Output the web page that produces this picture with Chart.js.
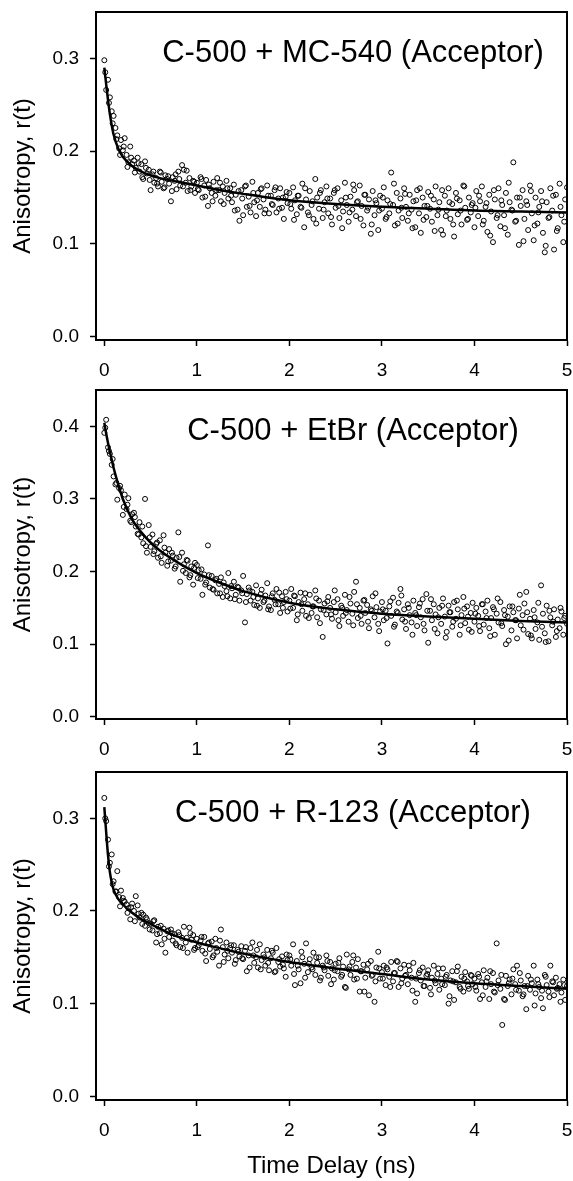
<!DOCTYPE html>
<html>
<head>
<meta charset="utf-8">
<script src="https://cdn.jsdelivr.net/npm/chart.js@4"></script>
<style>
    body { margin: 0; background: #fff; }
    .panel { position: absolute; left: 0; }
</style>
</head>
<body>
<canvas id="c1" class="panel" width="573" height="380" style="top:0"></canvas>
<canvas id="c2" class="panel" width="573" height="380" style="top:380px"></canvas>
<canvas id="c3" class="panel" width="573" height="421" style="top:760px"></canvas>
<script>
// tick labels
var xTicks = [0, 1, 2, 3, 4, 5];
var yTicksLow = [0, 0.1, 0.2, 0.3];
var yTicksHigh = [0, 0.1, 0.2, 0.3, 0.4];

// time channels (ns)
var times = [
    0.00, 0.02, 0.04, 0.06, 0.08, 0.10, 0.12, 0.14, 0.16, 0.18, 0.20, 0.22, 0.24, 0.26, 0.28, 0.30, 0.32, 0.34, 0.36, 0.38, 0.40, 0.42, 0.44, 0.46, 0.48,
    0.50, 0.52, 0.54, 0.56, 0.58, 0.60, 0.62, 0.64, 0.66, 0.68, 0.70, 0.72, 0.74, 0.76, 0.78, 0.80, 0.82, 0.84, 0.86, 0.88, 0.90, 0.92, 0.94, 0.96, 0.98,
    1.00, 1.02, 1.04, 1.06, 1.08, 1.10, 1.12, 1.14, 1.16, 1.18, 1.20, 1.22, 1.24, 1.26, 1.28, 1.30, 1.32, 1.34, 1.36, 1.38, 1.40, 1.42, 1.44, 1.46, 1.48,
    1.50, 1.52, 1.54, 1.56, 1.58, 1.60, 1.62, 1.64, 1.66, 1.68, 1.70, 1.72, 1.74, 1.76, 1.78, 1.80, 1.82, 1.84, 1.86, 1.88, 1.90, 1.92, 1.94, 1.96, 1.98,
    2.00, 2.02, 2.04, 2.06, 2.08, 2.10, 2.12, 2.14, 2.16, 2.18, 2.20, 2.22, 2.24, 2.26, 2.28, 2.30, 2.32, 2.34, 2.36, 2.38, 2.40, 2.42, 2.44, 2.46, 2.48,
    2.50, 2.52, 2.54, 2.56, 2.58, 2.60, 2.62, 2.64, 2.66, 2.68, 2.70, 2.72, 2.74, 2.76, 2.78, 2.80, 2.82, 2.84, 2.86, 2.88, 2.90, 2.92, 2.94, 2.96, 2.98,
    3.00, 3.02, 3.04, 3.06, 3.08, 3.10, 3.12, 3.14, 3.16, 3.18, 3.20, 3.22, 3.24, 3.26, 3.28, 3.30, 3.32, 3.34, 3.36, 3.38, 3.40, 3.42, 3.44, 3.46, 3.48,
    3.50, 3.52, 3.54, 3.56, 3.58, 3.60, 3.62, 3.64, 3.66, 3.68, 3.70, 3.72, 3.74, 3.76, 3.78, 3.80, 3.82, 3.84, 3.86, 3.88, 3.90, 3.92, 3.94, 3.96, 3.98,
    4.00, 4.02, 4.04, 4.06, 4.08, 4.10, 4.12, 4.14, 4.16, 4.18, 4.20, 4.22, 4.24, 4.26, 4.28, 4.30, 4.32, 4.34, 4.36, 4.38, 4.40, 4.42, 4.44, 4.46, 4.48,
    4.50, 4.52, 4.54, 4.56, 4.58, 4.60, 4.62, 4.64, 4.66, 4.68, 4.70, 4.72, 4.74, 4.76, 4.78, 4.80, 4.82, 4.84, 4.86, 4.88, 4.90, 4.92, 4.94, 4.96, 4.98,
    5.00
];
// in-between channels
var timesB = [
    0.01, 0.05, 0.09, 0.13, 0.17, 0.21, 0.25, 0.29, 0.33, 0.37, 0.41, 0.45, 0.49, 0.53, 0.57, 0.61, 0.65, 0.69, 0.73, 0.77, 0.81, 0.85, 0.89, 0.93, 0.97,
    1.01, 1.05, 1.09, 1.13, 1.17, 1.21, 1.25, 1.29, 1.33, 1.37, 1.41, 1.45, 1.49, 1.53, 1.57, 1.61, 1.65, 1.69, 1.73, 1.77, 1.81, 1.85, 1.89, 1.93, 1.97,
    2.01, 2.05, 2.09, 2.13, 2.17, 2.21, 2.25, 2.29, 2.33, 2.37, 2.41, 2.45, 2.49, 2.53, 2.57, 2.61, 2.65, 2.69, 2.73, 2.77, 2.81, 2.85, 2.89, 2.93, 2.97,
    3.01, 3.05, 3.09, 3.13, 3.17, 3.21, 3.25, 3.29, 3.33, 3.37, 3.41, 3.45, 3.49, 3.53, 3.57, 3.61, 3.65, 3.69, 3.73, 3.77, 3.81, 3.85, 3.89, 3.93, 3.97,
    4.01, 4.05, 4.09, 4.13, 4.17, 4.21, 4.25, 4.29, 4.33, 4.37, 4.41, 4.45, 4.49, 4.53, 4.57, 4.61, 4.65, 4.69, 4.73, 4.77, 4.81, 4.85, 4.89, 4.93, 4.97
];

// measured anisotropy r(t)
var rMC540 = [
    0.298, 0.266, 0.277, 0.258, 0.243, 0.238, 0.225, 0.217, 0.203, 0.212, 0.201, 0.214, 0.196, 0.188, 0.205, 0.186, 0.190, 0.182, 0.193, 0.178, 0.186, 0.170, 0.189, 0.176, 0.180,
    0.158, 0.175, 0.166, 0.171, 0.162, 0.178, 0.167, 0.160, 0.174, 0.170, 0.165, 0.146, 0.172, 0.168, 0.159, 0.178, 0.163, 0.185, 0.180, 0.166, 0.157, 0.171, 0.162, 0.168, 0.155,
    0.166, 0.158, 0.172, 0.150, 0.163, 0.169, 0.141, 0.160, 0.155, 0.167, 0.152, 0.171, 0.158, 0.146, 0.162, 0.155, 0.168, 0.149, 0.160, 0.145, 0.164, 0.153, 0.137, 0.125, 0.158,
    0.131, 0.162, 0.140, 0.151, 0.134, 0.167, 0.145, 0.130, 0.155, 0.140, 0.160, 0.148, 0.137, 0.163, 0.133, 0.152, 0.142, 0.158, 0.134, 0.149, 0.160, 0.139, 0.127, 0.151, 0.144,
    0.155, 0.138, 0.161, 0.147, 0.132, 0.152, 0.140, 0.165, 0.118, 0.148, 0.134, 0.157, 0.142, 0.127, 0.170, 0.150, 0.138, 0.158, 0.128, 0.145, 0.162, 0.133, 0.149, 0.121, 0.155,
    0.139, 0.160, 0.128, 0.147, 0.135, 0.166, 0.142, 0.124, 0.151, 0.137, 0.158, 0.130, 0.146, 0.163, 0.141, 0.120, 0.153, 0.136, 0.148, 0.111, 0.157, 0.131, 0.144, 0.115, 0.152,
    0.138, 0.161, 0.127, 0.147, 0.133, 0.177, 0.142, 0.120, 0.155, 0.136, 0.149, 0.128, 0.160, 0.140, 0.125, 0.153, 0.137, 0.146, 0.118, 0.158, 0.133, 0.112, 0.150, 0.141, 0.129,
    0.156, 0.138, 0.124, 0.148, 0.162, 0.131, 0.145, 0.115, 0.110, 0.152, 0.136, 0.160, 0.127, 0.143, 0.108, 0.155, 0.132, 0.147, 0.121, 0.163, 0.139, 0.126, 0.150, 0.134, 0.144,
    0.118, 0.157, 0.130, 0.146, 0.162, 0.125, 0.140, 0.113, 0.153, 0.135, 0.102, 0.148, 0.128, 0.160, 0.119, 0.142, 0.131, 0.155, 0.110, 0.145, 0.137, 0.188, 0.124, 0.150, 0.099,
    0.141, 0.158, 0.127, 0.146, 0.115, 0.163, 0.133, 0.104, 0.150, 0.122, 0.140, 0.157, 0.112, 0.091, 0.145, 0.128, 0.160, 0.136, 0.094, 0.153, 0.117, 0.165, 0.131, 0.102, 0.148,
    0.161
];
var rMC540b = [
    0.285, 0.252, 0.230, 0.213, 0.196, 0.205, 0.183, 0.193, 0.177, 0.187, 0.172, 0.182, 0.169, 0.178, 0.165, 0.177, 0.161, 0.173, 0.157, 0.175, 0.170, 0.162, 0.179, 0.158, 0.167,
    0.159, 0.170, 0.151, 0.164, 0.146, 0.158, 0.166, 0.143, 0.160, 0.152, 0.136, 0.157, 0.149, 0.163, 0.141, 0.155, 0.147, 0.159, 0.133, 0.152, 0.143, 0.161, 0.138, 0.150, 0.156,
    0.143, 0.126, 0.152, 0.139, 0.160, 0.131, 0.146, 0.122, 0.155, 0.137, 0.149, 0.129, 0.158, 0.141, 0.117, 0.150, 0.134, 0.164, 0.145, 0.127, 0.153, 0.139, 0.121, 0.147, 0.136,
    0.150, 0.129, 0.143, 0.165, 0.122, 0.139, 0.154, 0.133, 0.117, 0.147, 0.160, 0.126, 0.141, 0.152, 0.114, 0.137, 0.158, 0.130, 0.145, 0.121, 0.149, 0.136, 0.162, 0.127, 0.142,
    0.139, 0.152, 0.121, 0.144, 0.109, 0.158, 0.131, 0.147, 0.117, 0.166, 0.136, 0.125, 0.150, 0.103, 0.142, 0.157, 0.120, 0.134, 0.146, 0.098, 0.129, 0.152, 0.114, 0.140, 0.124
];
var rEtBr = [
    0.391, 0.409, 0.371, 0.362, 0.347, 0.331, 0.320, 0.299, 0.315, 0.312, 0.278, 0.306, 0.286, 0.301, 0.270, 0.279, 0.281, 0.262, 0.252, 0.268, 0.247, 0.239, 0.300, 0.226, 0.264,
    0.234, 0.251, 0.228, 0.238, 0.219, 0.243, 0.212, 0.250, 0.226, 0.208, 0.231, 0.215, 0.222, 0.204, 0.219, 0.254, 0.186, 0.226, 0.210, 0.198, 0.215, 0.192, 0.207, 0.182, 0.212,
    0.209, 0.202, 0.190, 0.168, 0.196, 0.185, 0.236, 0.178, 0.194, 0.175, 0.188, 0.170, 0.183, 0.192, 0.165, 0.180, 0.173, 0.198, 0.163, 0.177, 0.186, 0.168, 0.179, 0.160, 0.174,
    0.194, 0.130, 0.169, 0.178, 0.160, 0.172, 0.154, 0.181, 0.163, 0.150, 0.175, 0.158, 0.167, 0.184, 0.152, 0.147, 0.170, 0.161, 0.176, 0.155, 0.143, 0.166, 0.158, 0.172, 0.145,
    0.160, 0.176, 0.150, 0.166, 0.133, 0.158, 0.171, 0.146, 0.162, 0.139, 0.155, 0.168, 0.143, 0.152, 0.174, 0.137, 0.160, 0.148, 0.110, 0.156, 0.141, 0.165, 0.150, 0.135, 0.158,
    0.144, 0.162, 0.125, 0.153, 0.139, 0.168, 0.147, 0.131, 0.156, 0.142, 0.172, 0.186, 0.136, 0.150, 0.128, 0.160, 0.143, 0.154, 0.122, 0.148, 0.166, 0.137, 0.151, 0.128, 0.145,
    0.158, 0.133, 0.146, 0.101, 0.152, 0.139, 0.164, 0.127, 0.145, 0.157, 0.176, 0.134, 0.148, 0.121, 0.155, 0.140, 0.130, 0.160, 0.143, 0.125, 0.151, 0.137, 0.162, 0.119, 0.169,
    0.102, 0.146, 0.133, 0.155, 0.141, 0.115, 0.150, 0.128, 0.163, 0.138, 0.117, 0.153, 0.144, 0.124, 0.158, 0.135, 0.148, 0.113, 0.140, 0.165, 0.129, 0.152, 0.120, 0.143, 0.157,
    0.131, 0.150, 0.139, 0.118, 0.155, 0.127, 0.145, 0.160, 0.122, 0.136, 0.151, 0.113, 0.142, 0.130, 0.158, 0.125, 0.147, 0.100, 0.138, 0.152, 0.119, 0.144, 0.133, 0.108, 0.149,
    0.126, 0.140, 0.156, 0.172, 0.114, 0.135, 0.108, 0.147, 0.121, 0.130, 0.106, 0.181, 0.142, 0.115, 0.153, 0.104, 0.137, 0.126, 0.148, 0.110, 0.134, 0.122, 0.145, 0.113, 0.139,
    0.128
];
var rEtBrb = [
    0.398, 0.366, 0.355, 0.322, 0.318, 0.289, 0.292, 0.268, 0.275, 0.251, 0.262, 0.235, 0.247, 0.224, 0.240, 0.221, 0.233, 0.214, 0.226, 0.207, 0.220, 0.201, 0.216, 0.195, 0.205,
    0.191, 0.203, 0.182, 0.195, 0.176, 0.190, 0.170, 0.185, 0.166, 0.180, 0.162, 0.178, 0.170, 0.158, 0.174, 0.165, 0.153, 0.169, 0.160, 0.148, 0.166, 0.155, 0.171, 0.150, 0.162,
    0.149, 0.167, 0.141, 0.155, 0.170, 0.136, 0.152, 0.163, 0.129, 0.147, 0.159, 0.141, 0.174, 0.133, 0.150, 0.143, 0.165, 0.126, 0.155, 0.139, 0.161, 0.131, 0.146, 0.170, 0.118,
    0.148, 0.136, 0.159, 0.124, 0.143, 0.167, 0.131, 0.150, 0.113, 0.140, 0.156, 0.128, 0.146, 0.162, 0.121, 0.137, 0.153, 0.109, 0.144, 0.131, 0.160, 0.126, 0.149, 0.138, 0.117,
    0.142, 0.125, 0.155, 0.136, 0.111, 0.148, 0.163, 0.129, 0.140, 0.105, 0.152, 0.133, 0.168, 0.120, 0.144, 0.112, 0.137, 0.157, 0.124, 0.103, 0.146, 0.131, 0.118, 0.150, 0.136
];
var rR123 = [
    0.322, 0.297, 0.277, 0.252, 0.261, 0.232, 0.221, 0.243, 0.215, 0.222, 0.214, 0.210, 0.207, 0.203, 0.191, 0.208, 0.200, 0.216, 0.206, 0.193, 0.198, 0.196, 0.184, 0.191, 0.187,
    0.186, 0.179, 0.190, 0.166, 0.183, 0.176, 0.164, 0.181, 0.155, 0.178, 0.172, 0.180, 0.168, 0.175, 0.163, 0.177, 0.161, 0.171, 0.183, 0.166, 0.155, 0.182, 0.169, 0.174, 0.160,
    0.170, 0.163, 0.168, 0.157, 0.172, 0.146, 0.165, 0.159, 0.167, 0.152, 0.170, 0.156, 0.141, 0.180, 0.161, 0.153, 0.166, 0.149, 0.160, 0.155, 0.163, 0.147, 0.158, 0.151, 0.162,
    0.148, 0.157, 0.135, 0.152, 0.160, 0.166, 0.144, 0.150, 0.139, 0.164, 0.147, 0.153, 0.141, 0.158, 0.136, 0.149, 0.155, 0.134, 0.160, 0.145, 0.140, 0.151, 0.138, 0.129, 0.147,
    0.152, 0.141, 0.164, 0.120, 0.146, 0.137, 0.122, 0.150, 0.143, 0.165, 0.134, 0.148, 0.139, 0.155, 0.131, 0.144, 0.150, 0.128, 0.141, 0.136, 0.152, 0.130, 0.145, 0.138, 0.126,
    0.143, 0.135, 0.149, 0.129, 0.140, 0.118, 0.153, 0.137, 0.131, 0.145, 0.126, 0.139, 0.148, 0.113, 0.135, 0.142, 0.128, 0.137, 0.109, 0.146, 0.131, 0.102, 0.139, 0.156, 0.127,
    0.134, 0.141, 0.120, 0.137, 0.129, 0.145, 0.124, 0.133, 0.146, 0.118, 0.138, 0.127, 0.142, 0.131, 0.121, 0.136, 0.128, 0.144, 0.102, 0.111, 0.133, 0.125, 0.139, 0.119, 0.130,
    0.136, 0.117, 0.128, 0.141, 0.122, 0.132, 0.115, 0.127, 0.138, 0.120, 0.131, 0.100, 0.125, 0.135, 0.104, 0.123, 0.140, 0.118, 0.129, 0.113, 0.134, 0.124, 0.116, 0.131, 0.121,
    0.127, 0.114, 0.132, 0.105, 0.123, 0.136, 0.118, 0.128, 0.105, 0.121, 0.133, 0.112, 0.165, 0.125, 0.116, 0.077, 0.105, 0.130, 0.119, 0.126, 0.110, 0.137, 0.121, 0.141, 0.114,
    0.125, 0.108, 0.119, 0.094, 0.130, 0.115, 0.122, 0.141, 0.111, 0.126, 0.118, 0.106, 0.095, 0.131, 0.120, 0.113, 0.141, 0.124, 0.109, 0.128, 0.117, 0.121, 0.112, 0.126, 0.104,
    0.119
];
var rR123b = [
    0.300, 0.248, 0.229, 0.221, 0.205, 0.211, 0.198, 0.204, 0.189, 0.197, 0.186, 0.193, 0.180, 0.189, 0.175, 0.184, 0.170, 0.179, 0.176, 0.165, 0.174, 0.160, 0.171, 0.176, 0.158,
    0.161, 0.172, 0.154, 0.166, 0.150, 0.160, 0.168, 0.145, 0.157, 0.163, 0.143, 0.156, 0.149, 0.161, 0.139, 0.152, 0.158, 0.137, 0.150, 0.144, 0.157, 0.135, 0.148, 0.142, 0.153,
    0.148, 0.132, 0.141, 0.156, 0.128, 0.143, 0.137, 0.150, 0.125, 0.139, 0.146, 0.121, 0.136, 0.144, 0.131, 0.117, 0.140, 0.152, 0.127, 0.135, 0.113, 0.143, 0.130, 0.124, 0.138,
    0.127, 0.139, 0.118, 0.133, 0.145, 0.122, 0.130, 0.141, 0.114, 0.127, 0.136, 0.119, 0.132, 0.110, 0.125, 0.138, 0.121, 0.129, 0.108, 0.124, 0.135, 0.116, 0.127, 0.119, 0.130,
    0.118, 0.129, 0.109, 0.124, 0.135, 0.113, 0.120, 0.131, 0.104, 0.122, 0.127, 0.115, 0.133, 0.110, 0.119, 0.126, 0.098, 0.121, 0.114, 0.129, 0.107, 0.123, 0.116, 0.102, 0.120
];

// fitted decay curves
var fitTimes = [0, 0.02, 0.04, 0.06, 0.08, 0.1, 0.15, 0.2, 0.3, 0.4, 0.5, 0.6, 0.8, 1.0, 1.2, 1.5, 2.0, 2.5, 3.0, 3.5, 4.0, 4.5, 5.0];
var fitMC540 = [0.290, 0.272, 0.255, 0.240, 0.228, 0.218, 0.203, 0.194, 0.184, 0.178, 0.174, 0.171, 0.167, 0.163, 0.159, 0.154, 0.147, 0.143, 0.140, 0.138, 0.136, 0.135, 0.134];
var fitEtBr = [0.405, 0.390, 0.377, 0.365, 0.354, 0.343, 0.320, 0.300, 0.272, 0.254, 0.240, 0.229, 0.212, 0.198, 0.187, 0.173, 0.157, 0.148, 0.142, 0.138, 0.135, 0.132, 0.130];
var fitR123 = [0.312, 0.285, 0.260, 0.242, 0.231, 0.223, 0.213, 0.207, 0.198, 0.191, 0.186, 0.181, 0.172, 0.166, 0.161, 0.154, 0.145, 0.138, 0.132, 0.126, 0.122, 0.119, 0.116];

var FONT = '"Liberation Sans", Arial, Helvetica, sans-serif';
Chart.defaults.font.family = FONT;
Chart.defaults.color = '#000';

function toPoints(xs, ys) {
    return xs.map(function (x, i) {
        return {x: x, y: ys[i]};
    });
}

function fixedTicks(values) {
    return function (scale) {
        scale.ticks = values.map(function (v) {
            return {value: v};
        });
    };
}

// box around the plot area + the sample label inside it
var framePlugin = {
    id: 'frame',
    afterDraw: function (chart) {
        var a = chart.chartArea;
        var ctx = chart.ctx;
        var o = chart.options.plugins.frame;
        ctx.save();
        ctx.strokeStyle = '#000';
        ctx.lineWidth = 2;
        ctx.strokeRect(a.left, a.top, a.right - a.left, a.bottom - a.top);
        ctx.font = '31px ' + FONT;
        ctx.fillStyle = '#000';
        ctx.textAlign = 'center';
        ctx.textBaseline = 'alphabetic';
        ctx.fillText(o.label, a.left + o.labelX, a.top + o.labelY);
        ctx.restore();
    }
};

function makePanel(id, label, values, fit, yMin, yMax, yTicks, padTop, xHeight, showXTitle) {
    var tickGrid = {
        drawOnChartArea: false,
        drawTicks: true,
        tickLength: 6,
        tickWidth: 1.5,
        tickColor: '#000'
    };
    return new Chart(document.getElementById(id), {
        type: 'scatter',
        data: {
            datasets: [
                {
                    data: toPoints(fitTimes, fit),
                    showLine: true,
                    borderColor: '#000',
                    borderWidth: 2.5,
                    pointRadius: 0,
                    cubicInterpolationMode: 'monotone'
                },
                {
                    data: values,
                    showLine: false,
                    pointRadius: 2.5,
                    pointBorderWidth: 1,
                    pointBorderColor: '#000',
                    pointBackgroundColor: 'rgba(255,255,255,0)'
                }
            ]
        },
        options: {
            responsive: false,
            animation: false,
            layout: {padding: {top: padTop, left: 0, right: 6, bottom: 0}},
            plugins: {
                legend: {display: false},
                tooltip: {enabled: false},
                frame: {label: label, labelX: 257, labelY: 50}
            },
            scales: {
                x: {
                    type: 'linear',
                    min: -0.09,
                    max: 5,
                    bounds: 'data',
                    grid: tickGrid,
                    border: {display: true, color: '#000', width: 2},
                    afterBuildTicks: fixedTicks(xTicks),
                    ticks: {
                        maxRotation: 0,
                        padding: 13,
                        font: {size: 19}
                    },
                    title: {
                        display: showXTitle,
                        text: 'Time Delay (ns)',
                        font: {size: 24},
                        padding: {top: 0, bottom: 0}
                    },
                    afterFit: function (scale) {
                        scale.height = xHeight;
                        scale.paddingLeft = 0;
                        scale.paddingRight = 0;
                    }
                },
                y: {
                    min: yMin,
                    max: yMax,
                    bounds: 'data',
                    grid: tickGrid,
                    border: {display: true, color: '#000', width: 2},
                    afterBuildTicks: fixedTicks(yTicks),
                    ticks: {
                        padding: 11,
                        font: {size: 19},
                        callback: function (v) {
                            return Number(v).toFixed(1);
                        }
                    },
                    title: {
                        display: true,
                        text: 'Anisotropy, r(t)',
                        font: {size: 24},
                        padding: {top: 9, bottom: 0}
                    },
                    afterFit: function (scale) {
                        scale.width = 96;
                        scale.paddingTop = 0;
                        scale.paddingBottom = 0;
                    }
                }
            }
        },
        plugins: [framePlugin]
    });
}

makePanel('c1', 'C-500 + MC-540 (Acceptor)',
    toPoints(times, rMC540).concat(toPoints(timesB, rMC540b)), fitMC540, -0.0035, 0.35, yTicksLow, 12, 40, false);
makePanel('c2', 'C-500 + EtBr (Acceptor)',
    toPoints(times, rEtBr).concat(toPoints(timesB, rEtBrb)), fitEtBr, -0.003, 0.45, yTicksHigh, 10, 41, false);
makePanel('c3', 'C-500 + R-123 (Acceptor)',
    toPoints(times, rR123).concat(toPoints(timesB, rR123b)), fitR123, -0.004, 0.35, yTicksLow, 12, 81, true);
</script>
</body>
</html>
